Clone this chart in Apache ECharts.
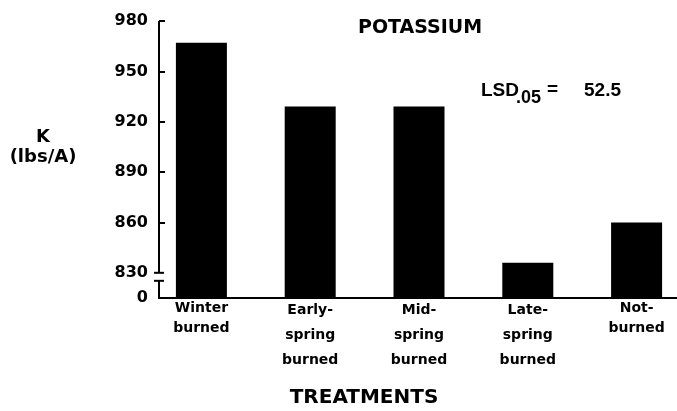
<!DOCTYPE html>
<html><head><meta charset="utf-8">
<script src="https://cdn.jsdelivr.net/npm/echarts@6/dist/echarts.min.js"></script>
<style>html,body{margin:0;padding:0;background:#fff}#c{width:677px;height:411px}</style>
</head><body><div id="c"></div>
<script>
// ---- data ----
const categories = ['Winter\nburned', 'Early-\nspring\nburned', 'Mid-\nspring\nburned', 'Late-\nspring\nburned', 'Not-\nburned'];
const potassium = [967, 929, 929, 836, 860];          // K (lbs/A)
const yTickValues = [830, 860, 890, 920, 950, 980];
const yBreakValue = 815;   // position of the "0" below the axis break
const yBreakLabel = '0';
const yMax = 980;
const titleText = 'POTASSIUM';
const xTitle = 'TREATMENTS';
const yTitle = 'K\n(lbs/A)';
const lsdLabel = 'LSD', lsdSub = '.05', lsdValue = '52.5';

// ---- layout ----
const gridLeft = 147, gridTop = 21, gridBottom = 113, gridWidth = 544;
const axisShift = 12;
const FONT = '"DejaVu Sans", sans-serif';
const FONT2 = '"Liberation Sans", Arial, sans-serif';

const chart = echarts.init(document.getElementById('c'), null, {renderer: 'canvas'});
const option = {
  animation: false,
  backgroundColor: '#fff',
  grid: {left: gridLeft, top: gridTop, bottom: gridBottom, width: gridWidth, containLabel: false, outerBoundsMode: 'none'},
  xAxis: {
    type: 'category',
    data: categories,
    axisLine: {show: false},
    axisTick: {show: false},
    axisLabel: {
      margin: 0,
      interval: 0,
      color: '#000',
      formatter: v => {
        const lines = v.split('\n');
        const s = lines.length > 2 ? 'l' : 's';
        return lines.map(t => '{' + s + '|' + t + '}').join('\n');
      },
      rich: {
        s: {fontFamily: FONT, fontWeight: 'bold', fontSize: 14, lineHeight: 20, color: '#000'},
        l: {fontFamily: FONT, fontWeight: 'bold', fontSize: 14, lineHeight: 25, color: '#000'}
      }
    }
  },
  yAxis: {
    type: 'value',
    min: yBreakValue,
    max: yMax,
    offset: -axisShift,
    splitLine: {show: false},
    axisLine: {show: false},
    axisTick: {show: true, inside: true, length: 6, customValues: yTickValues.filter(v => v !== 830),
      lineStyle: {color: '#000', width: 2}},
    axisLabel: {
      customValues: [yBreakValue].concat(yTickValues),
      formatter: v => (v === yBreakValue ? yBreakLabel : String(v)),
      color: '#000', fontFamily: FONT, fontWeight: 'bold', fontSize: 16, margin: 11
    }
  },
  series: [{
    type: 'bar',
    data: potassium,
    barWidth: 51,
    itemStyle: {color: '#000'}
  }],
  graphic: [
    {type: 'text', left: 358, top: 19, style: {text: titleText, font: 'bold 19px ' + FONT, fill: '#000'}},
    {type: 'text', x: 364, y: 398, style: {text: xTitle, font: 'bold 20px ' + FONT, fill: '#000', align: 'center', verticalAlign: 'middle', textAlign: 'center', textVerticalAlign: 'middle'}},
    {type: 'text', x: 43, y: 147, style: {text: yTitle, font: 'bold 18px ' + FONT, lineHeight: 20, fill: '#000', align: 'center', verticalAlign: 'middle', textAlign: 'center', textVerticalAlign: 'middle'}},
    {type: 'text', x: 481, y: 91, style: {text: lsdLabel, font: 'bold 19px ' + FONT2, fill: '#000', align: 'left', verticalAlign: 'middle', textAlign: 'left', textVerticalAlign: 'middle'}},
    {type: 'text', x: 516, y: 98, style: {text: lsdSub, font: 'bold 18px ' + FONT2, fill: '#000', align: 'left', verticalAlign: 'middle', textAlign: 'left', textVerticalAlign: 'middle'}},
    {type: 'text', x: 547, y: 90, style: {text: '=', font: 'bold 19px ' + FONT2, fill: '#000', align: 'left', verticalAlign: 'middle', textAlign: 'left', textVerticalAlign: 'middle'}},
    {type: 'text', x: 584, y: 91, style: {text: lsdValue, font: 'bold 19px ' + FONT2, fill: '#000', align: 'left', verticalAlign: 'middle', textAlign: 'left', textVerticalAlign: 'middle'}}
  ]
};
chart.setOption(option);

// axis lines with the break, positioned through the value axis
const py = v => chart.convertToPixel({yAxisIndex: 0}, v);
const ax = gridLeft + axisShift;
const yTop = py(yMax), y830 = py(yTickValues[0]), y0 = py(yBreakValue);
const yLow = y830 + 8;
const ls = {stroke: '#000', lineWidth: 2};
chart.setOption({
  graphic: option.graphic.concat([
    {type: 'line', shape: {x1: ax, y1: yTop, x2: ax, y2: y830}, style: ls, z: 10},
    {type: 'line', shape: {x1: ax - 5, y1: y830, x2: ax + 5, y2: y830}, style: ls, z: 10},
    {type: 'line', shape: {x1: ax - 5, y1: yLow, x2: ax + 5, y2: yLow}, style: ls, z: 10},
    {type: 'polyline', shape: {points: [[ax, yLow], [ax, y0], [677, y0]]}, style: Object.assign({fill: null}, ls), z: 10}
  ])
}, {replaceMerge: ['graphic']});
</script>
</body></html>
